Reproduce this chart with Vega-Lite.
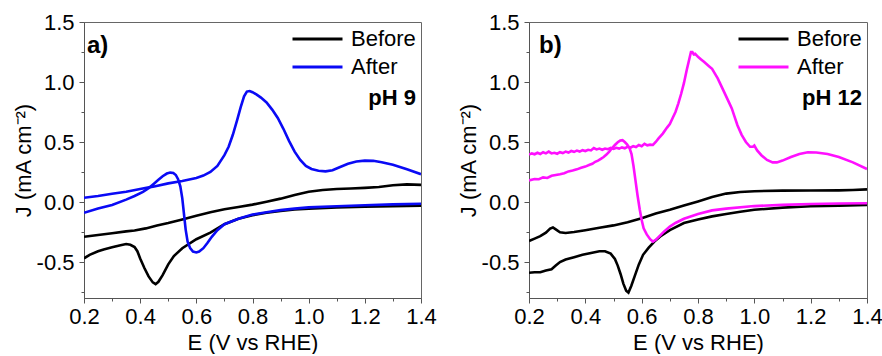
{
  "$schema": "https://vega.github.io/schema/vega-lite/v6.json",
  "autosize": {"type": "pad"},
  "padding": {"left": 11, "top": 10, "right": 0, "bottom": 0},
  "background": "white",
  "config": {
    "font": "Liberation Sans",
    "view": {"stroke": "#666", "strokeWidth": 1},
    "axis": {
      "labelFontSize": 22, "titleFontSize": 22, "labelColor": "#000", "titleColor": "#000",
      "titleFontWeight": "normal", "domainColor": "#555", "tickColor": "#555", "grid": false,
      "labelFont": "Liberation Sans", "titleFont": "Liberation Sans", "labelFlush": false, "labelOverlap": false
    },
    "legend": {"labelFont": "Liberation Sans", "titleFont": "Liberation Sans"}
  },
  "datasets": {
    "cv": [
      {"p":"a","s":"Before","b":"f","E":0.2,"J":-0.29},{"p":"a","s":"Before","b":"f","E":0.25,"J":-0.275},{"p":"a","s":"Before","b":"f","E":0.3,"J":-0.26},{"p":"a","s":"Before","b":"f","E":0.35,"J":-0.245},{"p":"a","s":"Before","b":"f","E":0.38,"J":-0.238},{"p":"a","s":"Before","b":"f","E":0.42,"J":-0.22},{"p":"a","s":"Before","b":"f","E":0.46,"J":-0.195},{"p":"a","s":"Before","b":"f","E":0.5,"J":-0.175},{"p":"a","s":"Before","b":"f","E":0.55,"J":-0.145},{"p":"a","s":"Before","b":"f","E":0.6,"J":-0.115},{"p":"a","s":"Before","b":"f","E":0.65,"J":-0.085},{"p":"a","s":"Before","b":"f","E":0.7,"J":-0.06},{"p":"a","s":"Before","b":"f","E":0.75,"J":-0.042},{"p":"a","s":"Before","b":"f","E":0.8,"J":-0.022},{"p":"a","s":"Before","b":"f","E":0.85,"J":0.002},{"p":"a","s":"Before","b":"f","E":0.9,"J":0.028},{"p":"a","s":"Before","b":"f","E":0.95,"J":0.058},{"p":"a","s":"Before","b":"f","E":1.0,"J":0.085},{"p":"a","s":"Before","b":"f","E":1.05,"J":0.1},{"p":"a","s":"Before","b":"f","E":1.1,"J":0.108},{"p":"a","s":"Before","b":"f","E":1.15,"J":0.113},{"p":"a","s":"Before","b":"f","E":1.2,"J":0.118},{"p":"a","s":"Before","b":"f","E":1.25,"J":0.125},{"p":"a","s":"Before","b":"f","E":1.3,"J":0.14},{"p":"a","s":"Before","b":"f","E":1.35,"J":0.147},{"p":"a","s":"Before","b":"f","E":1.4,"J":0.143},
      {"p":"a","s":"Before","b":"r","E":1.4,"J":-0.03},{"p":"a","s":"Before","b":"r","E":1.3,"J":-0.035},{"p":"a","s":"Before","b":"r","E":1.2,"J":-0.04},{"p":"a","s":"Before","b":"r","E":1.1,"J":-0.045},{"p":"a","s":"Before","b":"r","E":1.0,"J":-0.055},{"p":"a","s":"Before","b":"r","E":0.95,"J":-0.063},{"p":"a","s":"Before","b":"r","E":0.9,"J":-0.075},{"p":"a","s":"Before","b":"r","E":0.85,"J":-0.09},{"p":"a","s":"Before","b":"r","E":0.8,"J":-0.11},{"p":"a","s":"Before","b":"r","E":0.75,"J":-0.14},{"p":"a","s":"Before","b":"r","E":0.7,"J":-0.185},{"p":"a","s":"Before","b":"r","E":0.65,"J":-0.255},{"p":"a","s":"Before","b":"r","E":0.6,"J":-0.31},{"p":"a","s":"Before","b":"r","E":0.55,"J":-0.385},{"p":"a","s":"Before","b":"r","E":0.52,"J":-0.45},{"p":"a","s":"Before","b":"r","E":0.5,"J":-0.52},{"p":"a","s":"Before","b":"r","E":0.48,"J":-0.61},{"p":"a","s":"Before","b":"r","E":0.465,"J":-0.665},{"p":"a","s":"Before","b":"r","E":0.455,"J":-0.685},{"p":"a","s":"Before","b":"r","E":0.445,"J":-0.67},{"p":"a","s":"Before","b":"r","E":0.43,"J":-0.62},{"p":"a","s":"Before","b":"r","E":0.415,"J":-0.55},{"p":"a","s":"Before","b":"r","E":0.4,"J":-0.47},{"p":"a","s":"Before","b":"r","E":0.39,"J":-0.41},{"p":"a","s":"Before","b":"r","E":0.38,"J":-0.375},{"p":"a","s":"Before","b":"r","E":0.365,"J":-0.357},{"p":"a","s":"Before","b":"r","E":0.35,"J":-0.35},{"p":"a","s":"Before","b":"r","E":0.33,"J":-0.36},{"p":"a","s":"Before","b":"r","E":0.3,"J":-0.378},{"p":"a","s":"Before","b":"r","E":0.27,"J":-0.395},{"p":"a","s":"Before","b":"r","E":0.25,"J":-0.41},{"p":"a","s":"Before","b":"r","E":0.22,"J":-0.44},{"p":"a","s":"Before","b":"r","E":0.2,"J":-0.47},
      {"p":"a","s":"After","b":"f","E":0.2,"J":0.035},{"p":"a","s":"After","b":"f","E":0.25,"J":0.05},{"p":"a","s":"After","b":"f","E":0.3,"J":0.068},{"p":"a","s":"After","b":"f","E":0.35,"J":0.085},{"p":"a","s":"After","b":"f","E":0.4,"J":0.108},{"p":"a","s":"After","b":"f","E":0.45,"J":0.13},{"p":"a","s":"After","b":"f","E":0.5,"J":0.155},{"p":"a","s":"After","b":"f","E":0.55,"J":0.175},{"p":"a","s":"After","b":"f","E":0.6,"J":0.2},{"p":"a","s":"After","b":"f","E":0.625,"J":0.22},{"p":"a","s":"After","b":"f","E":0.65,"J":0.25},{"p":"a","s":"After","b":"f","E":0.675,"J":0.3},{"p":"a","s":"After","b":"f","E":0.7,"J":0.39},{"p":"a","s":"After","b":"f","E":0.715,"J":0.46},{"p":"a","s":"After","b":"f","E":0.73,"J":0.56},{"p":"a","s":"After","b":"f","E":0.745,"J":0.68},{"p":"a","s":"After","b":"f","E":0.758,"J":0.79},{"p":"a","s":"After","b":"f","E":0.77,"J":0.88},{"p":"a","s":"After","b":"f","E":0.78,"J":0.92},{"p":"a","s":"After","b":"f","E":0.79,"J":0.925},{"p":"a","s":"After","b":"f","E":0.8,"J":0.915},{"p":"a","s":"After","b":"f","E":0.815,"J":0.895},{"p":"a","s":"After","b":"f","E":0.83,"J":0.87},{"p":"a","s":"After","b":"f","E":0.85,"J":0.83},{"p":"a","s":"After","b":"f","E":0.87,"J":0.77},{"p":"a","s":"After","b":"f","E":0.89,"J":0.7},{"p":"a","s":"After","b":"f","E":0.91,"J":0.61},{"p":"a","s":"After","b":"f","E":0.93,"J":0.51},{"p":"a","s":"After","b":"f","E":0.95,"J":0.42},{"p":"a","s":"After","b":"f","E":0.97,"J":0.35},{"p":"a","s":"After","b":"f","E":0.99,"J":0.3},{"p":"a","s":"After","b":"f","E":1.01,"J":0.275},{"p":"a","s":"After","b":"f","E":1.035,"J":0.26},{"p":"a","s":"After","b":"f","E":1.06,"J":0.255},{"p":"a","s":"After","b":"f","E":1.085,"J":0.265},{"p":"a","s":"After","b":"f","E":1.11,"J":0.29},{"p":"a","s":"After","b":"f","E":1.14,"J":0.318},{"p":"a","s":"After","b":"f","E":1.17,"J":0.337},{"p":"a","s":"After","b":"f","E":1.2,"J":0.345},{"p":"a","s":"After","b":"f","E":1.23,"J":0.343},{"p":"a","s":"After","b":"f","E":1.26,"J":0.332},{"p":"a","s":"After","b":"f","E":1.3,"J":0.31},{"p":"a","s":"After","b":"f","E":1.35,"J":0.272},{"p":"a","s":"After","b":"f","E":1.4,"J":0.232},
      {"p":"a","s":"After","b":"r","E":1.4,"J":-0.015},{"p":"a","s":"After","b":"r","E":1.3,"J":-0.02},{"p":"a","s":"After","b":"r","E":1.2,"J":-0.027},{"p":"a","s":"After","b":"r","E":1.1,"J":-0.035},{"p":"a","s":"After","b":"r","E":1.0,"J":-0.045},{"p":"a","s":"After","b":"r","E":0.95,"J":-0.055},{"p":"a","s":"After","b":"r","E":0.9,"J":-0.068},{"p":"a","s":"After","b":"r","E":0.85,"J":-0.085},{"p":"a","s":"After","b":"r","E":0.8,"J":-0.105},{"p":"a","s":"After","b":"r","E":0.75,"J":-0.14},{"p":"a","s":"After","b":"r","E":0.7,"J":-0.185},{"p":"a","s":"After","b":"r","E":0.675,"J":-0.235},{"p":"a","s":"After","b":"r","E":0.655,"J":-0.29},{"p":"a","s":"After","b":"r","E":0.64,"J":-0.34},{"p":"a","s":"After","b":"r","E":0.625,"J":-0.385},{"p":"a","s":"After","b":"r","E":0.61,"J":-0.413},{"p":"a","s":"After","b":"r","E":0.6,"J":-0.42},{"p":"a","s":"After","b":"r","E":0.588,"J":-0.413},{"p":"a","s":"After","b":"r","E":0.578,"J":-0.385},{"p":"a","s":"After","b":"r","E":0.569,"J":-0.33},{"p":"a","s":"After","b":"r","E":0.562,"J":-0.23},{"p":"a","s":"After","b":"r","E":0.556,"J":-0.1},{"p":"a","s":"After","b":"r","E":0.55,"J":0.03},{"p":"a","s":"After","b":"r","E":0.543,"J":0.13},{"p":"a","s":"After","b":"r","E":0.535,"J":0.19},{"p":"a","s":"After","b":"r","E":0.527,"J":0.225},{"p":"a","s":"After","b":"r","E":0.518,"J":0.242},{"p":"a","s":"After","b":"r","E":0.507,"J":0.245},{"p":"a","s":"After","b":"r","E":0.495,"J":0.237},{"p":"a","s":"After","b":"r","E":0.48,"J":0.215},{"p":"a","s":"After","b":"r","E":0.465,"J":0.185},{"p":"a","s":"After","b":"r","E":0.45,"J":0.155},{"p":"a","s":"After","b":"r","E":0.43,"J":0.115},{"p":"a","s":"After","b":"r","E":0.41,"J":0.085},{"p":"a","s":"After","b":"r","E":0.38,"J":0.05},{"p":"a","s":"After","b":"r","E":0.35,"J":0.02},{"p":"a","s":"After","b":"r","E":0.3,"J":-0.025},{"p":"a","s":"After","b":"r","E":0.25,"J":-0.055},{"p":"a","s":"After","b":"r","E":0.2,"J":-0.09},
      {"p":"b","s":"Before","b":"f","E":0.2,"J":-0.325},{"p":"b","s":"Before","b":"f","E":0.22,"J":-0.305},{"p":"b","s":"Before","b":"f","E":0.24,"J":-0.285},{"p":"b","s":"Before","b":"f","E":0.26,"J":-0.255},{"p":"b","s":"Before","b":"f","E":0.275,"J":-0.222},{"p":"b","s":"Before","b":"f","E":0.285,"J":-0.212},{"p":"b","s":"Before","b":"f","E":0.295,"J":-0.228},{"p":"b","s":"Before","b":"f","E":0.31,"J":-0.252},{"p":"b","s":"Before","b":"f","E":0.33,"J":-0.258},{"p":"b","s":"Before","b":"f","E":0.36,"J":-0.25},{"p":"b","s":"Before","b":"f","E":0.4,"J":-0.235},{"p":"b","s":"Before","b":"f","E":0.45,"J":-0.215},{"p":"b","s":"Before","b":"f","E":0.5,"J":-0.195},{"p":"b","s":"Before","b":"f","E":0.55,"J":-0.168},{"p":"b","s":"Before","b":"f","E":0.6,"J":-0.135},{"p":"b","s":"Before","b":"f","E":0.65,"J":-0.095},{"p":"b","s":"Before","b":"f","E":0.7,"J":-0.065},{"p":"b","s":"Before","b":"f","E":0.75,"J":-0.03},{"p":"b","s":"Before","b":"f","E":0.8,"J":0.005},{"p":"b","s":"Before","b":"f","E":0.85,"J":0.042},{"p":"b","s":"Before","b":"f","E":0.9,"J":0.07},{"p":"b","s":"Before","b":"f","E":0.95,"J":0.083},{"p":"b","s":"Before","b":"f","E":1.0,"J":0.09},{"p":"b","s":"Before","b":"f","E":1.1,"J":0.095},{"p":"b","s":"Before","b":"f","E":1.2,"J":0.096},{"p":"b","s":"Before","b":"f","E":1.3,"J":0.097},{"p":"b","s":"Before","b":"f","E":1.35,"J":0.1},{"p":"b","s":"Before","b":"f","E":1.4,"J":0.105},
      {"p":"b","s":"Before","b":"r","E":1.4,"J":-0.025},{"p":"b","s":"Before","b":"r","E":1.3,"J":-0.03},{"p":"b","s":"Before","b":"r","E":1.2,"J":-0.036},{"p":"b","s":"Before","b":"r","E":1.1,"J":-0.047},{"p":"b","s":"Before","b":"r","E":1.0,"J":-0.065},{"p":"b","s":"Before","b":"r","E":0.95,"J":-0.082},{"p":"b","s":"Before","b":"r","E":0.9,"J":-0.1},{"p":"b","s":"Before","b":"r","E":0.85,"J":-0.12},{"p":"b","s":"Before","b":"r","E":0.8,"J":-0.145},{"p":"b","s":"Before","b":"r","E":0.75,"J":-0.175},{"p":"b","s":"Before","b":"r","E":0.7,"J":-0.235},{"p":"b","s":"Before","b":"r","E":0.67,"J":-0.28},{"p":"b","s":"Before","b":"r","E":0.645,"J":-0.33},{"p":"b","s":"Before","b":"r","E":0.625,"J":-0.38},{"p":"b","s":"Before","b":"r","E":0.605,"J":-0.44},{"p":"b","s":"Before","b":"r","E":0.59,"J":-0.52},{"p":"b","s":"Before","b":"r","E":0.575,"J":-0.62},{"p":"b","s":"Before","b":"r","E":0.563,"J":-0.7},{"p":"b","s":"Before","b":"r","E":0.553,"J":-0.755},{"p":"b","s":"Before","b":"r","E":0.545,"J":-0.74},{"p":"b","s":"Before","b":"r","E":0.535,"J":-0.68},{"p":"b","s":"Before","b":"r","E":0.525,"J":-0.6},{"p":"b","s":"Before","b":"r","E":0.515,"J":-0.53},{"p":"b","s":"Before","b":"r","E":0.505,"J":-0.475},{"p":"b","s":"Before","b":"r","E":0.49,"J":-0.43},{"p":"b","s":"Before","b":"r","E":0.47,"J":-0.41},{"p":"b","s":"Before","b":"r","E":0.45,"J":-0.41},{"p":"b","s":"Before","b":"r","E":0.42,"J":-0.425},{"p":"b","s":"Before","b":"r","E":0.39,"J":-0.44},{"p":"b","s":"Before","b":"r","E":0.36,"J":-0.46},{"p":"b","s":"Before","b":"r","E":0.33,"J":-0.48},{"p":"b","s":"Before","b":"r","E":0.31,"J":-0.5},{"p":"b","s":"Before","b":"r","E":0.295,"J":-0.53},{"p":"b","s":"Before","b":"r","E":0.28,"J":-0.56},{"p":"b","s":"Before","b":"r","E":0.26,"J":-0.57},{"p":"b","s":"Before","b":"r","E":0.24,"J":-0.585},{"p":"b","s":"Before","b":"r","E":0.22,"J":-0.585},{"p":"b","s":"Before","b":"r","E":0.2,"J":-0.59},
      {"p":"b","s":"After","b":"f","E":0.2,"J":0.395},{"p":"b","s":"After","b":"f","E":0.21,"J":0.405},{"p":"b","s":"After","b":"f","E":0.22,"J":0.398},{"p":"b","s":"After","b":"f","E":0.23,"J":0.41},{"p":"b","s":"After","b":"f","E":0.24,"J":0.4},{"p":"b","s":"After","b":"f","E":0.25,"J":0.415},{"p":"b","s":"After","b":"f","E":0.26,"J":0.405},{"p":"b","s":"After","b":"f","E":0.27,"J":0.42},{"p":"b","s":"After","b":"f","E":0.28,"J":0.405},{"p":"b","s":"After","b":"f","E":0.29,"J":0.41},{"p":"b","s":"After","b":"f","E":0.3,"J":0.402},{"p":"b","s":"After","b":"f","E":0.31,"J":0.415},{"p":"b","s":"After","b":"f","E":0.32,"J":0.408},{"p":"b","s":"After","b":"f","E":0.33,"J":0.42},{"p":"b","s":"After","b":"f","E":0.34,"J":0.412},{"p":"b","s":"After","b":"f","E":0.35,"J":0.425},{"p":"b","s":"After","b":"f","E":0.36,"J":0.418},{"p":"b","s":"After","b":"f","E":0.37,"J":0.428},{"p":"b","s":"After","b":"f","E":0.38,"J":0.42},{"p":"b","s":"After","b":"f","E":0.39,"J":0.432},{"p":"b","s":"After","b":"f","E":0.4,"J":0.425},{"p":"b","s":"After","b":"f","E":0.41,"J":0.435},{"p":"b","s":"After","b":"f","E":0.42,"J":0.43},{"p":"b","s":"After","b":"f","E":0.43,"J":0.45},{"p":"b","s":"After","b":"f","E":0.44,"J":0.438},{"p":"b","s":"After","b":"f","E":0.45,"J":0.445},{"p":"b","s":"After","b":"f","E":0.46,"J":0.435},{"p":"b","s":"After","b":"f","E":0.47,"J":0.445},{"p":"b","s":"After","b":"f","E":0.48,"J":0.44},{"p":"b","s":"After","b":"f","E":0.49,"J":0.45},{"p":"b","s":"After","b":"f","E":0.5,"J":0.442},{"p":"b","s":"After","b":"f","E":0.51,"J":0.452},{"p":"b","s":"After","b":"f","E":0.52,"J":0.445},{"p":"b","s":"After","b":"f","E":0.53,"J":0.455},{"p":"b","s":"After","b":"f","E":0.54,"J":0.448},{"p":"b","s":"After","b":"f","E":0.55,"J":0.46},{"p":"b","s":"After","b":"f","E":0.56,"J":0.452},{"p":"b","s":"After","b":"f","E":0.57,"J":0.465},{"p":"b","s":"After","b":"f","E":0.58,"J":0.458},{"p":"b","s":"After","b":"f","E":0.59,"J":0.475},{"p":"b","s":"After","b":"f","E":0.6,"J":0.465},{"p":"b","s":"After","b":"f","E":0.61,"J":0.485},{"p":"b","s":"After","b":"f","E":0.62,"J":0.472},{"p":"b","s":"After","b":"f","E":0.63,"J":0.478},{"p":"b","s":"After","b":"f","E":0.64,"J":0.475},{"p":"b","s":"After","b":"f","E":0.65,"J":0.5},{"p":"b","s":"After","b":"f","E":0.66,"J":0.53},{"p":"b","s":"After","b":"f","E":0.675,"J":0.57},{"p":"b","s":"After","b":"f","E":0.69,"J":0.62},{"p":"b","s":"After","b":"f","E":0.7,"J":0.65},{"p":"b","s":"After","b":"f","E":0.71,"J":0.7},{"p":"b","s":"After","b":"f","E":0.72,"J":0.75},{"p":"b","s":"After","b":"f","E":0.73,"J":0.82},{"p":"b","s":"After","b":"f","E":0.74,"J":0.9},{"p":"b","s":"After","b":"f","E":0.75,"J":0.99},{"p":"b","s":"After","b":"f","E":0.76,"J":1.1},{"p":"b","s":"After","b":"f","E":0.77,"J":1.2},{"p":"b","s":"After","b":"f","E":0.775,"J":1.25},{"p":"b","s":"After","b":"f","E":0.78,"J":1.25},{"p":"b","s":"After","b":"f","E":0.785,"J":1.23},{"p":"b","s":"After","b":"f","E":0.79,"J":1.235},{"p":"b","s":"After","b":"f","E":0.8,"J":1.21},{"p":"b","s":"After","b":"f","E":0.81,"J":1.19},{"p":"b","s":"After","b":"f","E":0.82,"J":1.17},{"p":"b","s":"After","b":"f","E":0.83,"J":1.15},{"p":"b","s":"After","b":"f","E":0.84,"J":1.13},{"p":"b","s":"After","b":"f","E":0.85,"J":1.11},{"p":"b","s":"After","b":"f","E":0.86,"J":1.07},{"p":"b","s":"After","b":"f","E":0.87,"J":1.03},{"p":"b","s":"After","b":"f","E":0.88,"J":0.98},{"p":"b","s":"After","b":"f","E":0.89,"J":0.93},{"p":"b","s":"After","b":"f","E":0.9,"J":0.88},{"p":"b","s":"After","b":"f","E":0.91,"J":0.83},{"p":"b","s":"After","b":"f","E":0.92,"J":0.78},{"p":"b","s":"After","b":"f","E":0.93,"J":0.71},{"p":"b","s":"After","b":"f","E":0.94,"J":0.64},{"p":"b","s":"After","b":"f","E":0.955,"J":0.56},{"p":"b","s":"After","b":"f","E":0.97,"J":0.5},{"p":"b","s":"After","b":"f","E":0.985,"J":0.46},{"p":"b","s":"After","b":"f","E":0.995,"J":0.46},{"p":"b","s":"After","b":"f","E":1.0,"J":0.47},{"p":"b","s":"After","b":"f","E":1.01,"J":0.43},{"p":"b","s":"After","b":"f","E":1.025,"J":0.39},{"p":"b","s":"After","b":"f","E":1.045,"J":0.35},{"p":"b","s":"After","b":"f","E":1.065,"J":0.33},{"p":"b","s":"After","b":"f","E":1.08,"J":0.33},{"p":"b","s":"After","b":"f","E":1.1,"J":0.345},{"p":"b","s":"After","b":"f","E":1.13,"J":0.375},{"p":"b","s":"After","b":"f","E":1.16,"J":0.4},{"p":"b","s":"After","b":"f","E":1.19,"J":0.415},{"p":"b","s":"After","b":"f","E":1.22,"J":0.413},{"p":"b","s":"After","b":"f","E":1.26,"J":0.4},{"p":"b","s":"After","b":"f","E":1.3,"J":0.375},{"p":"b","s":"After","b":"f","E":1.35,"J":0.33},{"p":"b","s":"After","b":"f","E":1.4,"J":0.275},
      {"p":"b","s":"After","b":"r","E":1.4,"J":-0.01},{"p":"b","s":"After","b":"r","E":1.3,"J":-0.012},{"p":"b","s":"After","b":"r","E":1.2,"J":-0.017},{"p":"b","s":"After","b":"r","E":1.1,"J":-0.024},{"p":"b","s":"After","b":"r","E":1.0,"J":-0.034},{"p":"b","s":"After","b":"r","E":0.9,"J":-0.055},{"p":"b","s":"After","b":"r","E":0.85,"J":-0.07},{"p":"b","s":"After","b":"r","E":0.8,"J":-0.1},{"p":"b","s":"After","b":"r","E":0.75,"J":-0.14},{"p":"b","s":"After","b":"r","E":0.72,"J":-0.175},{"p":"b","s":"After","b":"r","E":0.7,"J":-0.205},{"p":"b","s":"After","b":"r","E":0.68,"J":-0.245},{"p":"b","s":"After","b":"r","E":0.665,"J":-0.28},{"p":"b","s":"After","b":"r","E":0.65,"J":-0.315},{"p":"b","s":"After","b":"r","E":0.64,"J":-0.33},{"p":"b","s":"After","b":"r","E":0.63,"J":-0.31},{"p":"b","s":"After","b":"r","E":0.618,"J":-0.27},{"p":"b","s":"After","b":"r","E":0.607,"J":-0.22},{"p":"b","s":"After","b":"r","E":0.6,"J":-0.15},{"p":"b","s":"After","b":"r","E":0.593,"J":-0.06},{"p":"b","s":"After","b":"r","E":0.585,"J":0.06},{"p":"b","s":"After","b":"r","E":0.578,"J":0.18},{"p":"b","s":"After","b":"r","E":0.571,"J":0.3},{"p":"b","s":"After","b":"r","E":0.564,"J":0.4},{"p":"b","s":"After","b":"r","E":0.557,"J":0.45},{"p":"b","s":"After","b":"r","E":0.548,"J":0.48},{"p":"b","s":"After","b":"r","E":0.54,"J":0.5},{"p":"b","s":"After","b":"r","E":0.532,"J":0.515},{"p":"b","s":"After","b":"r","E":0.524,"J":0.512},{"p":"b","s":"After","b":"r","E":0.515,"J":0.498},{"p":"b","s":"After","b":"r","E":0.505,"J":0.475},{"p":"b","s":"After","b":"r","E":0.495,"J":0.45},{"p":"b","s":"After","b":"r","E":0.485,"J":0.42},{"p":"b","s":"After","b":"r","E":0.475,"J":0.395},{"p":"b","s":"After","b":"r","E":0.465,"J":0.375},{"p":"b","s":"After","b":"r","E":0.455,"J":0.36},{"p":"b","s":"After","b":"r","E":0.445,"J":0.345},{"p":"b","s":"After","b":"r","E":0.435,"J":0.335},{"p":"b","s":"After","b":"r","E":0.425,"J":0.318},{"p":"b","s":"After","b":"r","E":0.415,"J":0.31},{"p":"b","s":"After","b":"r","E":0.4,"J":0.295},{"p":"b","s":"After","b":"r","E":0.385,"J":0.285},{"p":"b","s":"After","b":"r","E":0.37,"J":0.272},{"p":"b","s":"After","b":"r","E":0.355,"J":0.262},{"p":"b","s":"After","b":"r","E":0.34,"J":0.255},{"p":"b","s":"After","b":"r","E":0.325,"J":0.24},{"p":"b","s":"After","b":"r","E":0.31,"J":0.232},{"p":"b","s":"After","b":"r","E":0.295,"J":0.225},{"p":"b","s":"After","b":"r","E":0.28,"J":0.218},{"p":"b","s":"After","b":"r","E":0.265,"J":0.2},{"p":"b","s":"After","b":"r","E":0.25,"J":0.205},{"p":"b","s":"After","b":"r","E":0.235,"J":0.19},{"p":"b","s":"After","b":"r","E":0.22,"J":0.192},{"p":"b","s":"After","b":"r","E":0.2,"J":0.18}
    ]
  },
  "data": {"name": "cv"},
  "spacing": 19,
  "resolve": {"scale": {"color": "independent"}, "legend": {"color": "independent"}},
  "hconcat": [
    {
      "width": 337, "height": 276,
      "title": {"text": "a)", "anchor": "start", "frame": "group", "fontSize": 24, "fontWeight": "bold", "font": "Liberation Sans", "color": "#000", "baseline": "top", "offset": 0, "dx": 3, "dy": 47},
      "resolve": {"axis": {"x": "independent", "y": "independent"}},
      "layer": [
        {
          "transform": [{"filter": "datum.p === 'a' && datum.s === 'Before'"}],
          "mark": {"type": "line", "strokeWidth": 2.6, "clip": true},
          "encoding": {
            "x": {"field": "E", "type": "quantitative", "scale": {"domain": [0.2, 1.4], "nice": false, "zero": false},
                  "axis": {"orient": "bottom", "values": [0.2, 0.4, 0.6, 0.8, 1.0, 1.2, 1.4], "format": ".1f", "title": "E (V vs RHE)", "tickSize": 5, "labelPadding": 3, "titlePadding": 5}},
            "y": {"field": "J", "type": "quantitative", "scale": {"domain": [-0.8, 1.5], "nice": false, "zero": false},
                  "axis": {"orient": "left", "values": [-0.5, 0, 0.5, 1.0, 1.5], "labelExpr": "replace(format(datum.value, '.1f'), '\u2212', '-')", "title": "J (mA cm\u207b\u00b2)", "tickSize": 5, "labelPadding": 5, "titlePadding": 1}},
            "detail": {"field": "b"},
            "color": {"field": "s", "type": "nominal", "scale": {"domain": ["Before", "After"], "range": ["#000000", "#0a0af5"]},
                      "legend": {"orient": "none", "legendX": 207, "legendY": 4, "direction": "vertical", "symbolType": "stroke", "symbolSize": 2500, "symbolStrokeWidth": 3, "clipHeight": 26, "rowPadding": 2, "labelFontSize": 22, "labelOffset": 7, "labelColor": "#000",
                                 "title": "pH 9", "titleOrient": "bottom", "titleAnchor": "end", "titleFontSize": 22, "titleFontWeight": "bold", "titleColor": "#000", "titlePadding": 8}}
          }
        },
        {
          "transform": [{"filter": "datum.p === 'a' && datum.s === 'After'"}],
          "mark": {"type": "line", "strokeWidth": 2.6, "clip": true},
          "encoding": {
            "x": {"field": "E", "type": "quantitative", "axis": null},
            "y": {"field": "J", "type": "quantitative", "axis": null},
            "detail": {"field": "b"},
            "color": {"field": "s", "type": "nominal"}
          }
        },
        {
          "transform": [{"filter": "datum.p === 'a'"}],
          "mark": {"type": "line", "strokeOpacity": 0},
          "encoding": {
            "x": {"field": "E", "type": "quantitative", "axis": {"orient": "bottom", "values": [0.3, 0.5, 0.7, 0.9, 1.1, 1.3], "labels": false, "domain": false, "tickSize": 3, "title": null}},
            "y": {"field": "J", "type": "quantitative", "axis": {"orient": "left", "values": [-0.75, -0.25, 0.25, 0.75, 1.25], "labels": false, "domain": false, "tickSize": 3, "title": null}},
            "detail": {"field": "b"}
          }
        }
      ]
    },
    {
      "width": 338, "height": 276,
      "title": {"text": "b)", "anchor": "start", "frame": "group", "fontSize": 24, "fontWeight": "bold", "font": "Liberation Sans", "color": "#000", "baseline": "top", "offset": 0, "dx": 10, "dy": 47},
      "resolve": {"axis": {"x": "independent", "y": "independent"}},
      "layer": [
        {
          "transform": [{"filter": "datum.p === 'b' && datum.s === 'Before'"}],
          "mark": {"type": "line", "strokeWidth": 2.6, "clip": true},
          "encoding": {
            "x": {"field": "E", "type": "quantitative", "scale": {"domain": [0.2, 1.4], "nice": false, "zero": false},
                  "axis": {"orient": "bottom", "values": [0.2, 0.4, 0.6, 0.8, 1.0, 1.2, 1.4], "format": ".1f", "title": "E (V vs RHE)", "tickSize": 5, "labelPadding": 3, "titlePadding": 5}},
            "y": {"field": "J", "type": "quantitative", "scale": {"domain": [-0.8, 1.5], "nice": false, "zero": false},
                  "axis": {"orient": "left", "values": [-0.5, 0, 0.5, 1.0, 1.5], "labelExpr": "replace(format(datum.value, '.1f'), '\u2212', '-')", "title": "J (mA cm\u207b\u00b2)", "tickSize": 5, "labelPadding": 5, "titlePadding": 1}},
            "detail": {"field": "b"},
            "color": {"field": "s", "type": "nominal", "scale": {"domain": ["Before", "After"], "range": ["#000000", "#ff10ff"]},
                      "legend": {"orient": "none", "legendX": 208, "legendY": 4, "direction": "vertical", "symbolType": "stroke", "symbolSize": 2500, "symbolStrokeWidth": 3, "clipHeight": 26, "rowPadding": 2, "labelFontSize": 22, "labelOffset": 7, "labelColor": "#000",
                                 "title": "pH 12", "titleOrient": "bottom", "titleAnchor": "end", "titleFontSize": 22, "titleFontWeight": "bold", "titleColor": "#000", "titlePadding": 8}}
          }
        },
        {
          "transform": [{"filter": "datum.p === 'b' && datum.s === 'After'"}],
          "mark": {"type": "line", "strokeWidth": 2.6, "clip": true},
          "encoding": {
            "x": {"field": "E", "type": "quantitative", "axis": null},
            "y": {"field": "J", "type": "quantitative", "axis": null},
            "detail": {"field": "b"},
            "color": {"field": "s", "type": "nominal"}
          }
        },
        {
          "transform": [{"filter": "datum.p === 'b'"}],
          "mark": {"type": "line", "strokeOpacity": 0},
          "encoding": {
            "x": {"field": "E", "type": "quantitative", "axis": {"orient": "bottom", "values": [0.3, 0.5, 0.7, 0.9, 1.1, 1.3], "labels": false, "domain": false, "tickSize": 3, "title": null}},
            "y": {"field": "J", "type": "quantitative", "axis": {"orient": "left", "values": [-0.75, -0.25, 0.25, 0.75, 1.25], "labels": false, "domain": false, "tickSize": 3, "title": null}},
            "detail": {"field": "b"}
          }
        }
      ]
    }
  ]
}
